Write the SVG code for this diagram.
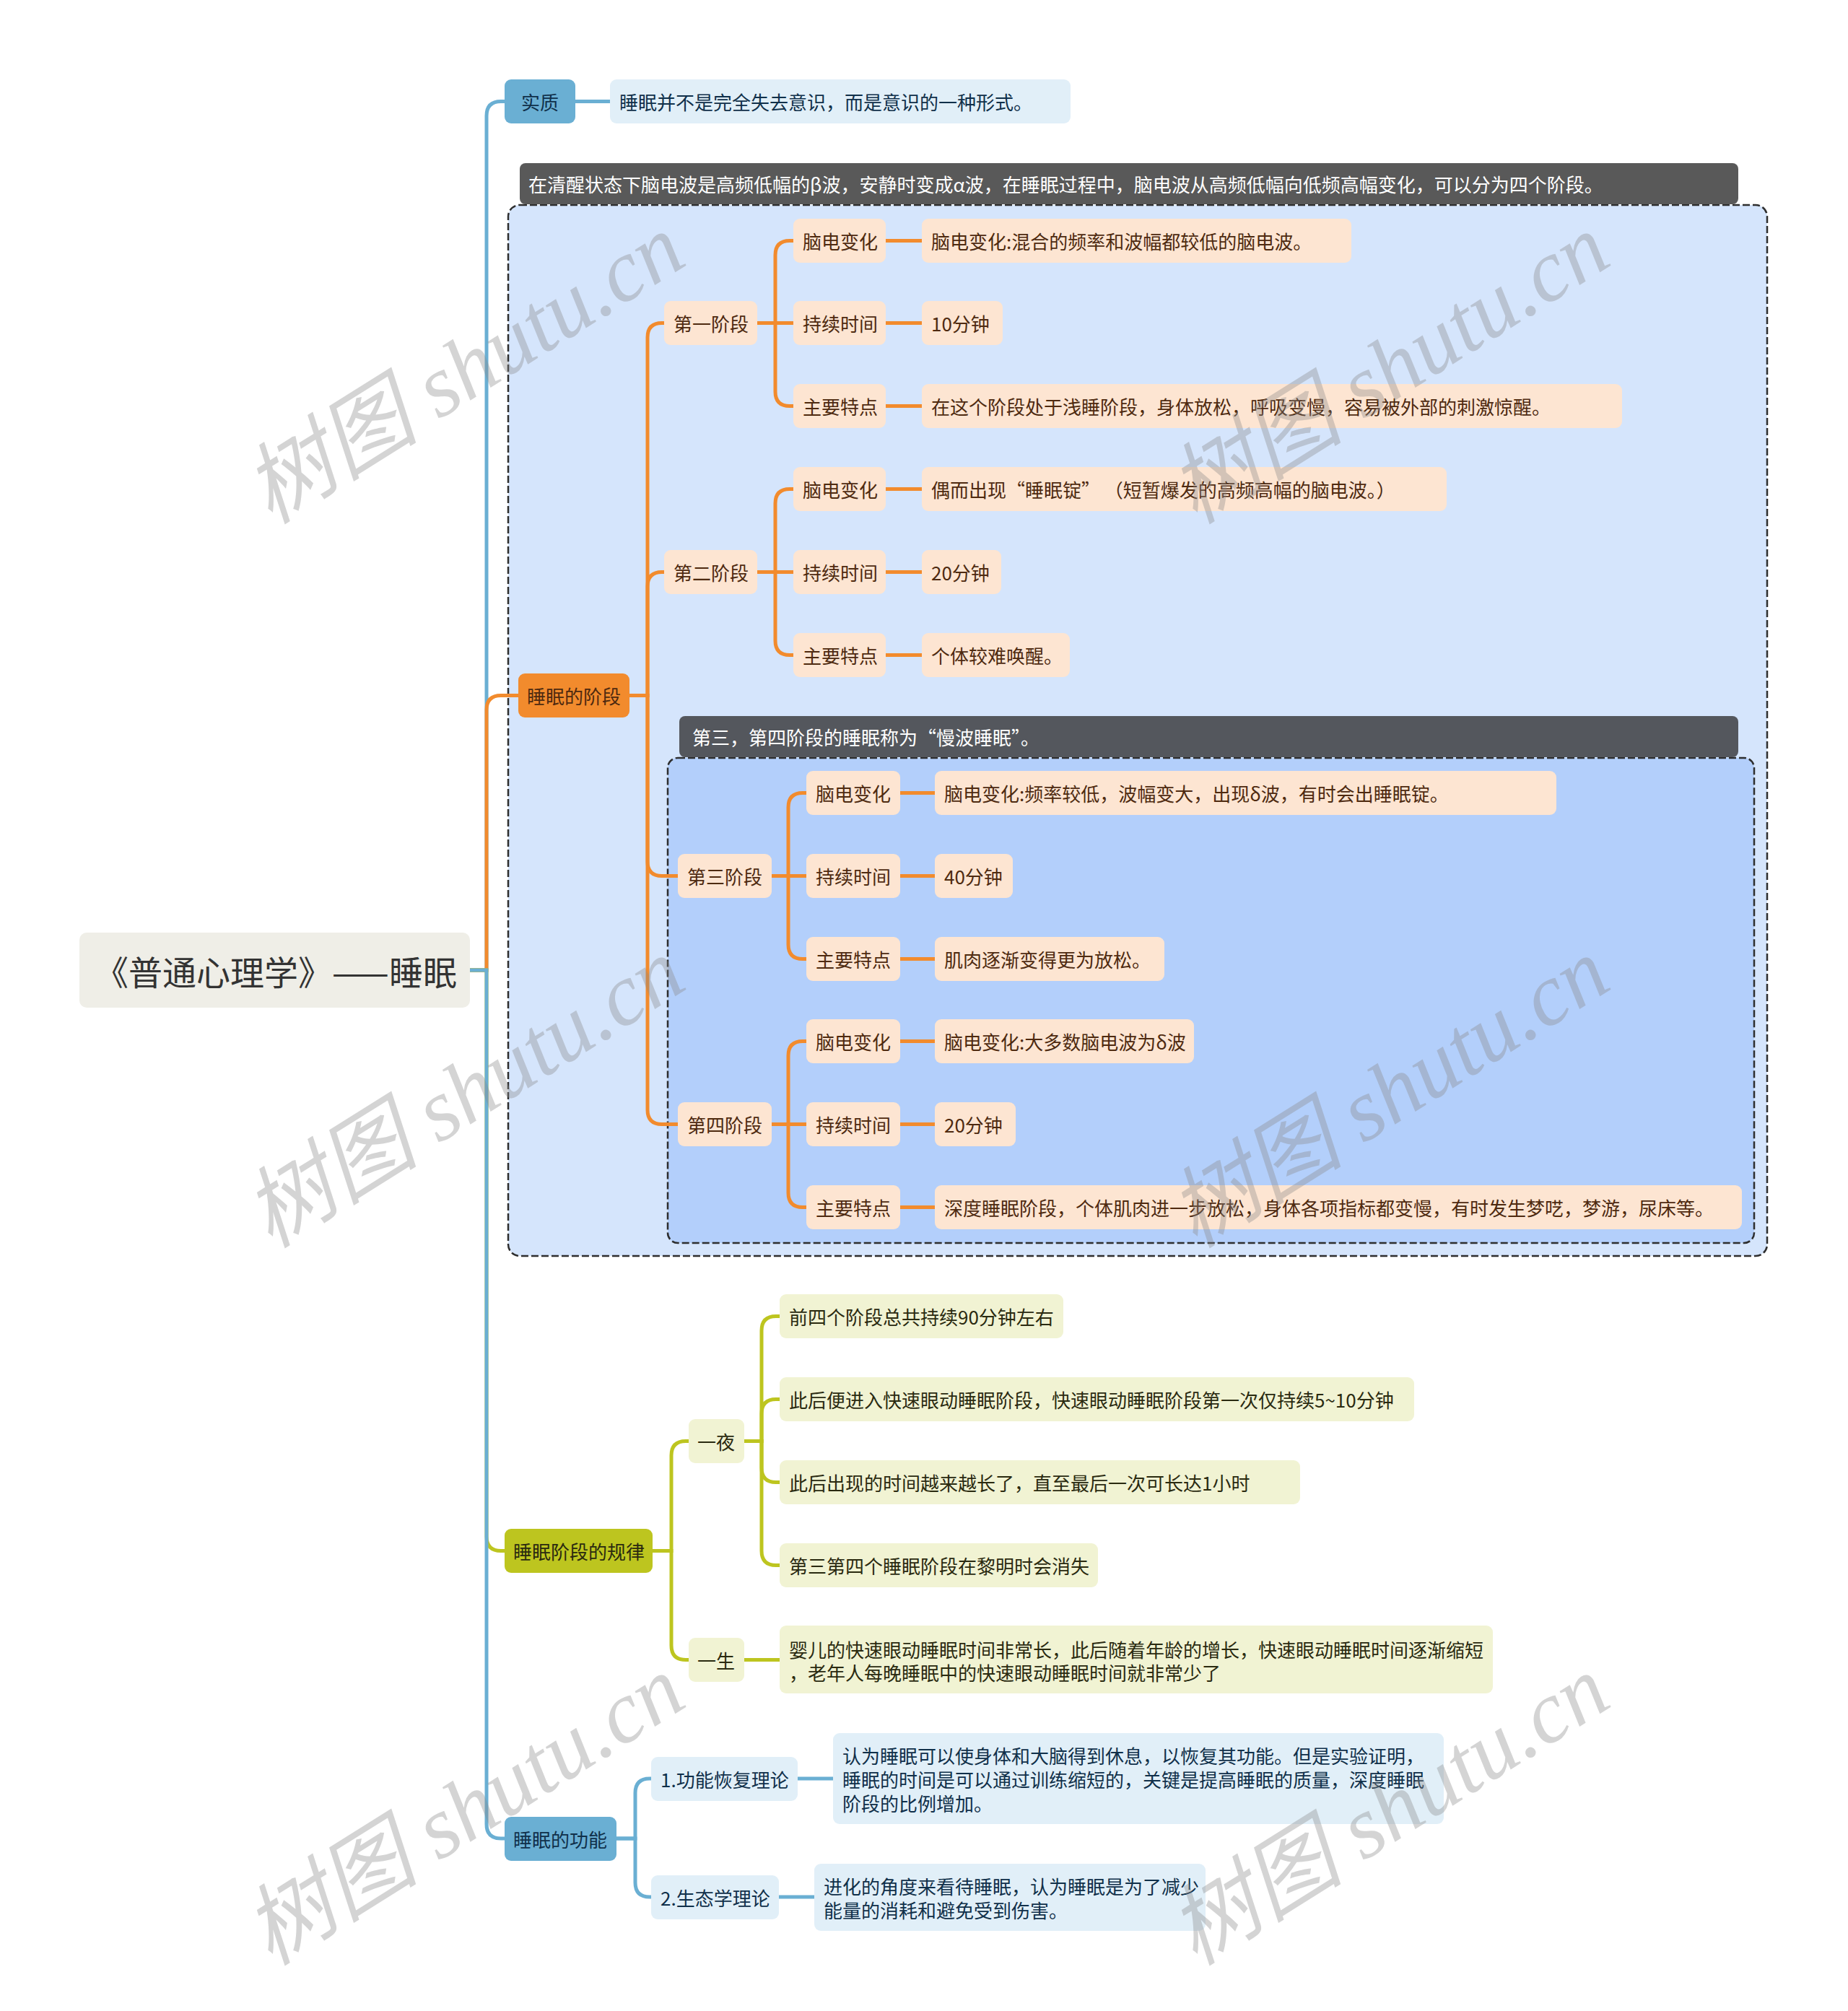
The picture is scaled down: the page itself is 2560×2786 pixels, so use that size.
<svg xmlns="http://www.w3.org/2000/svg" width="2560" height="2786" viewBox="0 0 2560 2786">
<style>
.t{font-family:"Noto Sans CJK SC","Noto Sans",sans-serif;font-size:26px}
.c{text-anchor:middle;dominant-baseline:central}
.l{dominant-baseline:central}
.big{font-size:47px}
.ln{fill:none;stroke-width:5}
.bl{stroke:#6aafd3}.or{stroke:#f28b2d}.ol{stroke:#bdc51f}
.nb{fill:#6aafd3}.nbl{fill:#e1eff8}.tb{fill:#10304a}
.no{fill:#f28b2d}.nol{fill:#fde5d2}.to{fill:#4e2a10}
.nv{fill:#bdc51f}.nvl{fill:#f1f3d3}.tv{fill:#2a2a10}
.wm{font-family:"Liberation Serif","Noto Sans CJK SC",serif;font-style:italic;font-size:122px;fill:#8a8a8a;opacity:.36;text-anchor:middle;dominant-baseline:central}
</style>
<rect width="2560" height="2786" fill="#ffffff"/>
<g id="region-outer">
<rect x="704" y="284" width="1744" height="1456" rx="16" fill="#d5e5fc" stroke="#2e2e2e" stroke-width="2.5" stroke-dasharray="10 4"/>
<rect x="720" y="226" width="1688" height="57" rx="8" fill="#595959"/>
<text class="t l" x="732" y="254.5" fill="#ffffff">在清醒状态下脑电波是高频低幅的β波，安静时变成α波，在睡眠过程中，脑电波从高频低幅向低频高幅变化，可以分为四个阶段。</text>
</g>
<g id="region-inner">
<rect x="925" y="1050" width="1505" height="672" rx="14" fill="#b3cffb" stroke="#2e2e2e" stroke-width="2.5" stroke-dasharray="10 4"/>
<rect x="941" y="992" width="1467" height="57" rx="8" fill="#54575d"/>
<text class="t l" x="959" y="1020.5" fill="#ffffff">第三，第四阶段的睡眠称为“慢波睡眠”。</text>
</g>
<g id="connectors">
<path class="ln bl" d="M651,1344 H674 V160.5 Q674,140.5 694,140.5 H699"/>
<path class="ln bl" d="M797,140.5 H845"/>
<path class="ln or" d="M651,1344 H674 V983.5 Q674,963.5 694,963.5 H718"/>
<path class="ln or" d="M872,963.5 H897 V467.5 Q897,447.5 917,447.5 H920"/>
<path class="ln or" d="M872,963.5 H897 V812.5 Q897,792.5 917,792.5 H920"/>
<path class="ln or" d="M872,963.5 H897 V1193.5 Q897,1213.5 917,1213.5 H939"/>
<path class="ln or" d="M872,963.5 H897 V1537.5 Q897,1557.5 917,1557.5 H939"/>
<path class="ln or" d="M1049,447.5 H1074 V353.5 Q1074,333.5 1094,333.5 H1099"/>
<path class="ln or" d="M1049,447.5 H1099"/>
<path class="ln or" d="M1049,447.5 H1074 V542.5 Q1074,562.5 1094,562.5 H1099"/>
<path class="ln or" d="M1227,333.5 H1277 M1227,447.5 H1277 M1227,562.5 H1277"/>
<path class="ln or" d="M1049,792.5 H1074 V697.5 Q1074,677.5 1094,677.5 H1099"/>
<path class="ln or" d="M1049,792.5 H1099"/>
<path class="ln or" d="M1049,792.5 H1074 V887.5 Q1074,907.5 1094,907.5 H1099"/>
<path class="ln or" d="M1227,677.5 H1277 M1227,792.5 H1277 M1227,907.5 H1277"/>
<path class="ln or" d="M1069,1213.5 H1092 V1118.5 Q1092,1098.5 1112,1098.5 H1117"/>
<path class="ln or" d="M1069,1213.5 H1117"/>
<path class="ln or" d="M1069,1213.5 H1092 V1308.5 Q1092,1328.5 1112,1328.5 H1117"/>
<path class="ln or" d="M1247,1098.5 H1295 M1247,1213.5 H1295 M1247,1328.5 H1295"/>
<path class="ln or" d="M1069,1557.5 H1092 V1462.5 Q1092,1442.5 1112,1442.5 H1117"/>
<path class="ln or" d="M1069,1557.5 H1117"/>
<path class="ln or" d="M1069,1557.5 H1092 V1652.5 Q1092,1672.5 1112,1672.5 H1117"/>
<path class="ln or" d="M1247,1442.5 H1295 M1247,1557.5 H1295 M1247,1672.5 H1295"/>
<path class="ln ol" d="M651,1344 H674 V2128.5 Q674,2148.5 694,2148.5 H699"/>
<path class="ln ol" d="M904,2148.5 H930 V2016.5 Q930,1996.5 950,1996.5 H954"/>
<path class="ln ol" d="M904,2148.5 H930 V2279.5 Q930,2299.5 950,2299.5 H954"/>
<path class="ln ol" d="M1031,1996.5 H1055 V1843.5 Q1055,1823.5 1075,1823.5 H1080"/>
<path class="ln ol" d="M1031,1996.5 H1055 V1958.5 Q1055,1938.5 1075,1938.5 H1080"/>
<path class="ln ol" d="M1031,1996.5 H1055 V2033.5 Q1055,2053.5 1075,2053.5 H1080"/>
<path class="ln ol" d="M1031,1996.5 H1055 V2148.5 Q1055,2168.5 1075,2168.5 H1080"/>
<path class="ln ol" d="M1031,2299.5 H1080"/>
<path class="ln bl" d="M651,1344 H674 V2527 Q674,2547 694,2547 H699"/>
<path class="ln bl" d="M854,2547 H880 V2484 Q880,2464 900,2464 H902"/>
<path class="ln bl" d="M854,2547 H880 V2608 Q880,2628 900,2628 H902"/>
<path class="ln bl" d="M1105,2464 H1154 M1079,2628 H1128"/>
</g>
<g id="root">
<rect x="110" y="1292" width="541" height="104" rx="10" fill="#efeee7"/>
<text class="t big c" x="382" y="1344" fill="#333333">《普通心理学》——睡眠</text>
</g>
<g id="n-shizhi"><rect class="nb" x="699" y="110" width="98" height="61" rx="9"/><text class="t l tb" x="722" y="140.5">实质</text></g>
<g id="n-shizhi-1"><rect class="nbl" x="845" y="110" width="638" height="61" rx="9"/><text class="t l tb" x="858" y="140.5">睡眠并不是完全失去意识，而是意识的一种形式。</text></g>
<g id="n-jieduan"><rect class="no" x="718" y="933" width="154" height="61" rx="9"/><text class="t l to" x="730" y="963.5">睡眠的阶段</text></g>
<g id="n-s1"><rect class="nol" x="920" y="417" width="129" height="61" rx="9"/><text class="t l to" x="933" y="447.5">第一阶段</text></g>
<g id="n-s1a"><rect class="nol" x="1099" y="303" width="128" height="61" rx="9"/><text class="t l to" x="1112" y="333.5">脑电变化</text></g>
<g id="n-s1b"><rect class="nol" x="1099" y="417" width="128" height="61" rx="9"/><text class="t l to" x="1112" y="447.5">持续时间</text></g>
<g id="n-s1c"><rect class="nol" x="1099" y="532" width="128" height="61" rx="9"/><text class="t l to" x="1112" y="562.5">主要特点</text></g>
<g id="n-s1a1"><rect class="nol" x="1277" y="303" width="595" height="61" rx="9"/><text class="t l to" x="1290" y="333.5">脑电变化:混合的频率和波幅都较低的脑电波。</text></g>
<g id="n-s1b1"><rect class="nol" x="1277" y="417" width="112" height="61" rx="9"/><text class="t l to" x="1290" y="447.5">10分钟</text></g>
<g id="n-s1c1"><rect class="nol" x="1277" y="532" width="970" height="61" rx="9"/><text class="t l to" x="1290" y="562.5">在这个阶段处于浅睡阶段，身体放松，呼吸变慢，容易被外部的刺激惊醒。</text></g>
<g id="n-s2"><rect class="nol" x="920" y="762" width="129" height="61" rx="9"/><text class="t l to" x="933" y="792.5">第二阶段</text></g>
<g id="n-s2a"><rect class="nol" x="1099" y="647" width="128" height="61" rx="9"/><text class="t l to" x="1112" y="677.5">脑电变化</text></g>
<g id="n-s2b"><rect class="nol" x="1099" y="762" width="128" height="61" rx="9"/><text class="t l to" x="1112" y="792.5">持续时间</text></g>
<g id="n-s2c"><rect class="nol" x="1099" y="877" width="128" height="61" rx="9"/><text class="t l to" x="1112" y="907.5">主要特点</text></g>
<g id="n-s2a1"><rect class="nol" x="1277" y="647" width="727" height="61" rx="9"/><text class="t l to" x="1290" y="677.5">偶而出现“睡眠锭” （短暂爆发的高频高幅的脑电波。）</text></g>
<g id="n-s2b1"><rect class="nol" x="1277" y="762" width="110" height="61" rx="9"/><text class="t l to" x="1290" y="792.5">20分钟</text></g>
<g id="n-s2c1"><rect class="nol" x="1277" y="877" width="205" height="61" rx="9"/><text class="t l to" x="1290" y="907.5">个体较难唤醒。</text></g>
<g id="n-s3"><rect class="nol" x="939" y="1183" width="130" height="61" rx="9"/><text class="t l to" x="952" y="1213.5">第三阶段</text></g>
<g id="n-s3a"><rect class="nol" x="1117" y="1068" width="130" height="61" rx="9"/><text class="t l to" x="1130" y="1098.5">脑电变化</text></g>
<g id="n-s3b"><rect class="nol" x="1117" y="1183" width="130" height="61" rx="9"/><text class="t l to" x="1130" y="1213.5">持续时间</text></g>
<g id="n-s3c"><rect class="nol" x="1117" y="1298" width="130" height="61" rx="9"/><text class="t l to" x="1130" y="1328.5">主要特点</text></g>
<g id="n-s3a1"><rect class="nol" x="1295" y="1068" width="861" height="61" rx="9"/><text class="t l to" x="1308" y="1098.5">脑电变化:频率较低，波幅变大，出现δ波，有时会出睡眠锭。</text></g>
<g id="n-s3b1"><rect class="nol" x="1295" y="1183" width="108" height="61" rx="9"/><text class="t l to" x="1308" y="1213.5">40分钟</text></g>
<g id="n-s3c1"><rect class="nol" x="1295" y="1298" width="318" height="61" rx="9"/><text class="t l to" x="1308" y="1328.5">肌肉逐渐变得更为放松。</text></g>
<g id="n-s4"><rect class="nol" x="939" y="1527" width="130" height="61" rx="9"/><text class="t l to" x="952" y="1557.5">第四阶段</text></g>
<g id="n-s4a"><rect class="nol" x="1117" y="1412" width="130" height="61" rx="9"/><text class="t l to" x="1130" y="1442.5">脑电变化</text></g>
<g id="n-s4b"><rect class="nol" x="1117" y="1527" width="130" height="61" rx="9"/><text class="t l to" x="1130" y="1557.5">持续时间</text></g>
<g id="n-s4c"><rect class="nol" x="1117" y="1642" width="130" height="61" rx="9"/><text class="t l to" x="1130" y="1672.5">主要特点</text></g>
<g id="n-s4a1"><rect class="nol" x="1295" y="1412" width="359" height="61" rx="9"/><text class="t l to" x="1308" y="1442.5">脑电变化:大多数脑电波为δ波</text></g>
<g id="n-s4b1"><rect class="nol" x="1295" y="1527" width="112" height="61" rx="9"/><text class="t l to" x="1308" y="1557.5">20分钟</text></g>
<g id="n-s4c1"><rect class="nol" x="1295" y="1642" width="1118" height="61" rx="9"/><text class="t l to" x="1308" y="1672.5">深度睡眠阶段，个体肌肉进一步放松，身体各项指标都变慢，有时发生梦呓，梦游，尿床等。</text></g>
<g id="n-guilv"><rect class="nv" x="699" y="2118" width="205" height="61" rx="9"/><text class="t l tv" x="711" y="2148.5">睡眠阶段的规律</text></g>
<g id="n-yiye"><rect class="nvl" x="954" y="1966" width="77" height="61" rx="9"/><text class="t l tv" x="966" y="1996.5">一夜</text></g>
<g id="n-yiye1"><rect class="nvl" x="1080" y="1793" width="393" height="61" rx="9"/><text class="t l tv" x="1093" y="1823.5">前四个阶段总共持续90分钟左右</text></g>
<g id="n-yiye2"><rect class="nvl" x="1080" y="1908" width="879" height="61" rx="9"/><text class="t l tv" x="1093" y="1938.5">此后便进入快速眼动睡眠阶段，快速眼动睡眠阶段第一次仅持续5~10分钟</text></g>
<g id="n-yiye3"><rect class="nvl" x="1080" y="2023" width="721" height="61" rx="9"/><text class="t l tv" x="1093" y="2053.5">此后出现的时间越来越长了，直至最后一次可长达1小时</text></g>
<g id="n-yiye4"><rect class="nvl" x="1080" y="2138" width="441" height="61" rx="9"/><text class="t l tv" x="1093" y="2168.5">第三第四个睡眠阶段在黎明时会消失</text></g>
<g id="n-yisheng"><rect class="nvl" x="954" y="2269" width="77" height="61" rx="9"/><text class="t l tv" x="966" y="2299.5">一生</text></g>
<g id="n-yisheng1"><rect class="nvl" x="1080" y="2252" width="988" height="94" rx="9"/><text class="t l tv" x="1093" y="2284">婴儿的快速眼动睡眠时间非常长，此后随着年龄的增长，快速眼动睡眠时间逐渐缩短</text><text class="t l tv" x="1093" y="2316">，老年人每晚睡眠中的快速眼动睡眠时间就非常少了</text></g>
<g id="n-gongneng"><rect class="nb" x="699" y="2517" width="155" height="61" rx="9"/><text class="t l tb" x="711" y="2547">睡眠的功能</text></g>
<g id="n-gn1"><rect class="nbl" x="902" y="2434" width="203" height="61" rx="9"/><text class="t l tb" x="915" y="2464">1.功能恢复理论</text></g>
<g id="n-gn1a"><rect class="nbl" x="1154" y="2401" width="846" height="126" rx="9"/><text class="t l tb" x="1167" y="2431">认为睡眠可以使身体和大脑得到休息，以恢复其功能。但是实验证明，</text><text class="t l tb" x="1167" y="2464">睡眠的时间是可以通过训练缩短的，关键是提高睡眠的质量，深度睡眠</text><text class="t l tb" x="1167" y="2497">阶段的比例增加。</text></g>
<g id="n-gn2"><rect class="nbl" x="902" y="2598" width="177" height="61" rx="9"/><text class="t l tb" x="915" y="2628">2.生态学理论</text></g>
<g id="n-gn2a"><rect class="nbl" x="1128" y="2582" width="542" height="93" rx="9"/><text class="t l tb" x="1141" y="2612">进化的角度来看待睡眠，认为睡眠是为了减少</text><text class="t l tb" x="1141" y="2645">能量的消耗和避免受到伤害。</text></g>
<g id="watermarks">
<text class="wm" transform="translate(643,511) rotate(-32)">树图 shutu.cn</text>
<text class="wm" transform="translate(1924,511) rotate(-32)">树图 shutu.cn</text>
<text class="wm" transform="translate(643,1514) rotate(-32)">树图 shutu.cn</text>
<text class="wm" transform="translate(1924,1514) rotate(-32)">树图 shutu.cn</text>
<text class="wm" transform="translate(643,2508) rotate(-32)">树图 shutu.cn</text>
<text class="wm" transform="translate(1924,2508) rotate(-32)">树图 shutu.cn</text>
</g>
</svg>
